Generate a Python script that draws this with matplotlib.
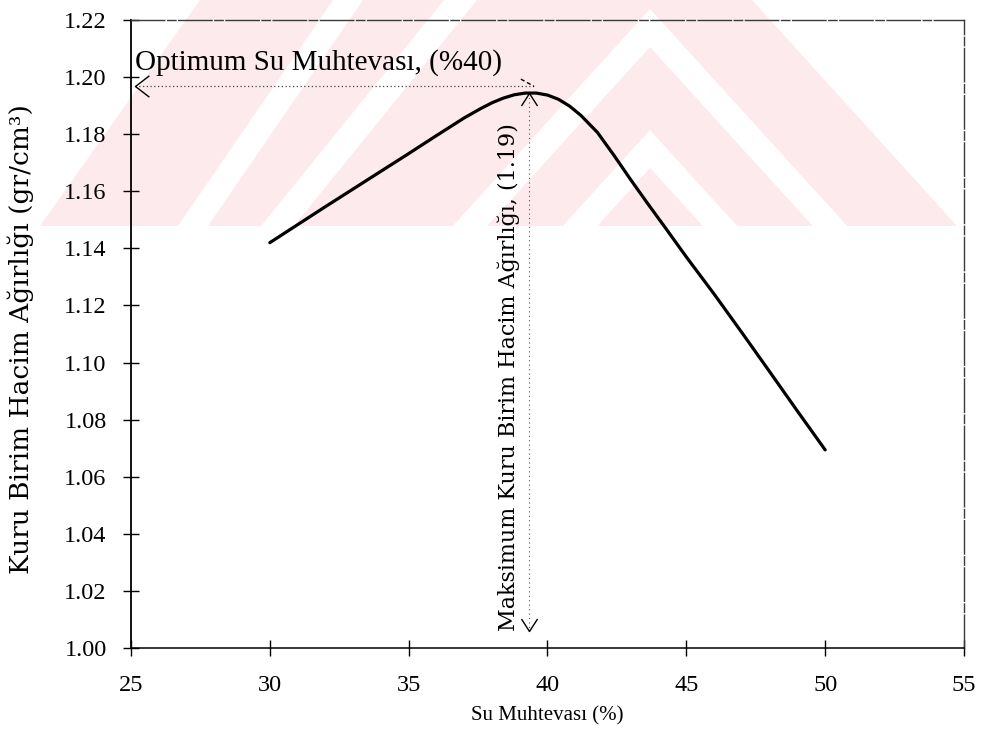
import matplotlib
matplotlib.use("Agg")
import matplotlib.pyplot as plt
from matplotlib.patches import Polygon
from matplotlib.path import Path

# kompaksiyon egrisi (okunan degerler)
water = [30.0, 31.0, 32.0, 33.0, 34.0, 35.0, 36.0, 37.0, 37.6, 38.0, 38.4, 38.8, 39.2, 39.6,
         40.0, 40.4, 40.8, 41.2, 41.8, 42.4, 43.0, 43.6, 44.2, 45.0, 46.0, 47.0, 48.0, 49.0, 50.0]
density = [1.1420, 1.1483, 1.1546, 1.1608, 1.1670, 1.1732, 1.1795, 1.1857, 1.1890, 1.1910,
           1.1926, 1.1938, 1.1944, 1.1944, 1.1937, 1.1922, 1.1898, 1.1866, 1.1806, 1.1725,
           1.1640, 1.1558, 1.1478, 1.1370, 1.1240, 1.1105, 1.0968, 1.0830, 1.0694]

opt_w = 39.35
opt_d = 1.1944
x_ticks = [25, 30, 35, 40, 45, 50, 55]
y_ticks = [1.00, 1.02, 1.04, 1.06, 1.08, 1.10, 1.12, 1.14, 1.16, 1.18, 1.20, 1.22]

W, H = 983, 746
fig = plt.figure(figsize=(W / 100, H / 100), dpi=100)
fig.patch.set_facecolor("white")


def px(x, y):
    return (x / W, 1 - y / H)


def band(pts, color):
    pg = Polygon([px(*p) for p in pts], closed=True, transform=fig.transFigure,
                 fc=color, ec="none", zorder=-3)
    fig.patches.append(pg)
    return pg


# soluk kirmizi filigran
pink = "#fdeaed"
band([(200, 0), (752, 0), (957, 226), (40, 226)], pink)
cx, s, L, g = 650, 1.1, 600, 38
for t in [9, 130]:
    band([(cx - L, t + L * s), (cx, t), (cx + L, t + L * s),
          (cx + L, t + g + L * s), (cx, t + g), (cx - L, t + g + L * s)], "white")
band([(333, 0), (363, 0), (208, 226), (178, 226)], "white")
band([(444, 0), (477, 0), (294, 226), (261, 226)], "white")
band([(0, 226), (983, 226), (983, 400), (0, 400)], "white")

ax = fig.add_axes([131 / W, 1 - 648 / H, (964 - 131) / W, (648 - 20) / H])
ax.set_facecolor("none")

ax.plot(water, density, color="black", lw=2.3, solid_capstyle="round",
        solid_joinstyle="round", zorder=5)

ax.set_xlim(25, 55)
ax.set_ylim(1.00, 1.22)
ax.set_xticks(x_ticks)
ax.set_yticks(y_ticks)
ax.set_xticklabels([str(v) for v in x_ticks])
ax.set_yticklabels(["%.2f" % v for v in y_ticks])

serif = "Liberation Serif"
ax.tick_params(direction="inout", length=11, width=1, colors="black",
               top=False, right=False)
ax.tick_params(axis="y", pad=12)
ax.tick_params(axis="x", pad=14)
for lab in ax.get_xticklabels() + ax.get_yticklabels():
    lab.set_fontfamily(serif)
    lab.set_fontsize(17.5)

ax.spines["left"].set_linewidth(1.3)
ax.spines["bottom"].set_linewidth(1.1)
for side in ["top", "right"]:
    ax.spines[side].set_linewidth(1.0)
    ax.spines[side].set_color("#3a3a3a")
    ax.spines[side].set_linestyle((0, (24, 2, 6, 2)))

ax.set_xlabel("Su Muhtevası (%)", fontfamily=serif, fontsize=15)
ax.xaxis.set_label_coords(0.5, -0.092)
fig.text(21 / W, 1 - 339 / H, "Kuru Birim Hacim Ağırlığı (gr/cm³)", fontfamily="DejaVu Serif",
         fontsize=19, rotation=90, ha="center", va="center")

# optimum su muhtevasi oku
ax.text(25.15, 1.2025, "Optimum Su Muhtevası, (%40)", fontfamily=serif, fontsize=21,
        ha="left", va="baseline")
ax.plot([25.15, 39.5], [1.197, 1.197], color="#444444", lw=0.9, ls=(0, (1, 2)))
left_head = Path([(1.3, 1.0), (0, 0), (1.3, -1.0)], [Path.MOVETO, Path.LINETO, Path.LINETO])
ax.plot([25.15], [1.197], marker=left_head, ms=20, mec="black", mew=1.0, fillstyle="none", ls="none")
ax.plot([39.04, 39.51], [1.1993, 1.1968], color="black", lw=1.0, ls=(0, (3, 2)))

# maksimum kuru birim hacim agirligi oku
ax.plot([opt_w, opt_w], [opt_d, 1.006], color="#555555", lw=0.8, ls=(0, (1, 3)))
up_head = Path([(-0.9, -1.4), (0, 0), (0.9, -1.4)], [Path.MOVETO, Path.LINETO, Path.LINETO])
down_head = Path([(-0.9, 1.4), (0, 0), (0.9, 1.4)], [Path.MOVETO, Path.LINETO, Path.LINETO])
ax.plot([opt_w], [opt_d], marker=up_head, ms=18, mec="black", mew=1.0, fillstyle="none", ls="none", zorder=6)
ax.plot([opt_w], [1.006], marker=down_head, ms=18, mec="black", mew=1.0, fillstyle="none", ls="none")
ax.text(38.6, 1.0949, "Maksimum Kuru Birim Hacim Ağırlığı, (1.19)", fontfamily="DejaVu Serif",
        fontsize=16, rotation=90, ha="center", va="center")

fig.savefig("out.png", dpi=100)
